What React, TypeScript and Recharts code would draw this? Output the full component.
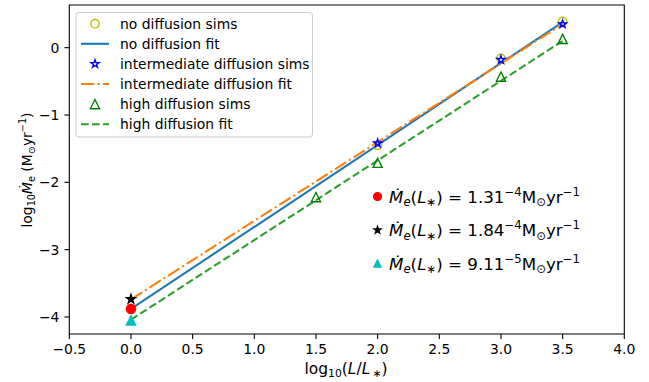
import React from 'react';
import { ComposedChart, XAxis, YAxis, Line, Scatter, ReferenceArea } from 'recharts';

const xTicks = [-0.5, 0, 0.5, 1, 1.5, 2, 2.5, 3, 3.5, 4];
const yTicks = [-4, -3, -2, -1, 0];
const xDomain = [-0.5, 4.0];
const yDomain = [-4.253, 0.634];

// simulation points
const noDiffX = [2, 3, 3.5];
const noDiffY = [-1.45, -0.16, 0.39];
const interX = [2, 3, 3.5];
const interY = [-1.42, -0.18, 0.35];
const highX = [1.5, 2, 3, 3.5];
const highY = [-2.22, -1.71, -0.43, 0.13];

// fits (straight lines, two endpoints each)
const fitX = [0, 3.5];
const noDiffFitY = [-3.88, 0.38];
const interFitY = [-3.74, 0.35];
const highFitY = [-4.04, 0.1];

// values at L = L*
const lstarX = [0];
const noDiffAtL = [-3.88];
const interAtL = [-3.735];
const highAtL = [-4.05];
const annotMantissa = ['1.31', '1.84', '9.11'];
const annotExp = ['\u22124', '\u22124', '\u22125'];

const legendLabels = [
  'no diffusion sims',
  'no diffusion fit',
  'intermediate diffusion sims',
  'intermediate diffusion fit',
  'high diffusion sims',
  'high diffusion fit',
];

const toPts = (xs: number[], ys: number[]) => xs.map((x, i) => ({ x, y: ys[i] }));

const FONT = '"DejaVu Sans", sans-serif';
const LW = 2.08;

const starPath = (cx: number, cy: number, R: number) => {
  const r = R * 0.381966;
  let d = '';
  for (let i = 0; i < 10; i++) {
    const rad = i % 2 === 0 ? R : r;
    const a = -Math.PI / 2 + (i * Math.PI) / 5;
    d += (i === 0 ? 'M' : 'L') + (cx + rad * Math.cos(a)).toFixed(2) + ',' + (cy + rad * Math.sin(a)).toFixed(2);
  }
  return d + 'Z';
};

const triPath = (cx: number, cy: number, s: number) =>
  `M${cx},${cy - s}L${cx - s},${cy + s}L${cx + s},${cy + s}Z`;

const circ = (color: string, r: number, filled: boolean) => (p: any) => (
  <circle cx={p.cx} cy={p.cy} r={r} fill={filled ? color : 'none'} stroke={color} strokeWidth={1.39} />
);
const star = (color: string, R: number, filled: boolean) => (p: any) => (
  <path d={starPath(p.cx, p.cy, R)} fill={filled ? color : 'none'} stroke={color} strokeWidth={1.39} strokeLinejoin="miter" />
);
const tri = (color: string, s: number, filled: boolean) => (p: any) => (
  <path d={triPath(p.cx, p.cy, s)} fill={filled ? color : 'none'} stroke={color} strokeWidth={1.39} />
);

const fmt = (v: number, digits: number) => v.toFixed(digits).replace('-', '\u2212');

function MdotLabel({ x, y, mant, exp }: { x: number; y: number; mant: string; exp: string }) {
  return (
    <text x={x} y={y} fontFamily={FONT} fontSize={16.7} fill="#000">
      <tspan fontStyle="italic">{'\u1E40'}</tspan>
      <tspan fontStyle="italic" fontSize={11.7} dy={3.5}>e</tspan>
      <tspan dy={-3.5}>(</tspan>
      <tspan fontStyle="italic">L</tspan>
      <tspan fontSize={11.7} dy={3.5}>{'\u2217'}</tspan>
      <tspan dy={-3.5}>{') = ' + mant}</tspan>
      <tspan fontSize={11.7} dy={-7}>{exp}</tspan>
      <tspan dy={7}>M</tspan>
      <tspan fontSize={11.7} dy={3.5}>{'\u2299'}</tspan>
      <tspan dy={-3.5}>yr</tspan>
      <tspan fontSize={11.7} dy={-7}>{'\u22121'}</tspan>
    </text>
  );
}

export default function App() {
  const legendRows = [
    { kind: 'circle', color: '#bfbf00' },
    { kind: 'line', color: '#1f77b4', dash: undefined },
    { kind: 'star', color: '#0000ff' },
    { kind: 'line', color: '#ff7f0e', dash: '13.3 3.3 2.1 3.3' },
    { kind: 'tri', color: '#008000' },
    { kind: 'line', color: '#2ca02c', dash: '7.7 3.3' },
  ];
  const annotMarkers = [circ('#ff0000', 3.9, true), star('#000000', 3.5, true), tri('#00bfbf', 3.5, true)];

  return (
    <div style={{ position: 'absolute', left: 0, top: 0, width: 649, height: 382, background: '#fff' }}>
      <ComposedChart width={649} height={382} margin={{ top: 5, right: 24.7, bottom: 18, left: 9.3 }}>
        <XAxis
          type="number"
          dataKey="x"
          domain={xDomain}
          ticks={xTicks}
          allowDataOverflow
          tickFormatter={(v: number) => fmt(v, 1)}
          tick={{ fill: '#000', fontSize: 13.9, fontFamily: FONT }}
          tickLine={{ stroke: '#000', strokeWidth: 1.1 }}
          tickSize={4.9}
          tickMargin={5}
          axisLine={false}
          height={30}
        />
        <YAxis
          type="number"
          dataKey="y"
          domain={yDomain}
          ticks={yTicks}
          allowDataOverflow
          tickFormatter={(v: number) => fmt(v, 0)}
          tick={{ fill: '#000', fontSize: 13.9, fontFamily: FONT }}
          tickLine={{ stroke: '#000', strokeWidth: 1.1 }}
          tickSize={4.9}
          tickMargin={5}
          axisLine={false}
          width={60}
        />
        <ReferenceArea x1={xDomain[0]} x2={xDomain[1]} y1={yDomain[0]} y2={yDomain[1]} fill="none" stroke="#000" strokeWidth={1.1} fillOpacity={0} />
        <Scatter data={toPts(noDiffX, noDiffY)} shape={circ('#bfbf00', 4.2, false)} isAnimationActive={false} />
        <Line data={toPts(fitX, noDiffFitY)} dataKey="y" stroke="#1f77b4" strokeWidth={LW} dot={false} isAnimationActive={false} />
        <Scatter data={toPts(interX, interY)} shape={star('#0000ff', 4.2, false)} isAnimationActive={false} />
        <Line data={toPts(fitX, interFitY)} dataKey="y" stroke="#ff7f0e" strokeWidth={LW} strokeDasharray="13.3 3.3 2.1 3.3" dot={false} isAnimationActive={false} />
        <Scatter data={toPts(highX, highY)} shape={tri('#008000', 4.6, false)} isAnimationActive={false} />
        <Line data={toPts(fitX, highFitY)} dataKey="y" stroke="#2ca02c" strokeWidth={LW} strokeDasharray="7.7 3.3" dot={false} isAnimationActive={false} />
        <Scatter data={toPts(lstarX, noDiffAtL)} shape={circ('#ff0000', 4.6, true)} isAnimationActive={false} />
        <Scatter data={toPts(lstarX, interAtL)} shape={star('#000000', 4.6, true)} isAnimationActive={false} />
        <Scatter data={toPts(lstarX, highAtL)} shape={tri('#00bfbf', 4.6, true)} isAnimationActive={false} />
      </ComposedChart>

      <svg width={649} height={382} style={{ position: 'absolute', left: 0, top: 0, pointerEvents: 'none' }}>
        {/* main legend */}
        <rect x={76} y={12.5} width={236.5} height={124.5} rx={3} fill="#fff" fillOpacity={0.8} stroke="#cccccc" strokeWidth={1} />
        {legendRows.map((row, i) => {
          const cy = 23.7 + i * 20.1;
          let marker: React.ReactNode = null;
          if (row.kind === 'line') {
            marker = <line x1={81} x2={109} y1={cy} y2={cy} stroke={row.color} strokeWidth={LW} strokeDasharray={(row as any).dash} />;
          } else if (row.kind === 'circle') {
            marker = circ(row.color, 4.2, false)({ cx: 95, cy });
          } else if (row.kind === 'star') {
            marker = star(row.color, 4.2, false)({ cx: 95, cy });
          } else {
            marker = tri(row.color, 4.6, false)({ cx: 95, cy });
          }
          return (
            <g key={i}>
              {marker}
              <text x={120} y={cy} dy="0.36em" fontFamily={FONT} fontSize={13.9} fill="#000">
                {legendLabels[i]}
              </text>
            </g>
          );
        })}

        {/* value annotations */}
        {annotMantissa.map((m, i) => {
          const cy = 196.5 + i * 33.5;
          return (
            <g key={i}>
              {annotMarkers[i]({ cx: 377.5, cy })}
              <MdotLabel x={389} y={cy + 6} mant={m} exp={annotExp[i]} />
            </g>
          );
        })}

        {/* axis labels */}
        <text x={346} y={374} textAnchor="middle" fontFamily={FONT} fontSize={15.5} fill="#000">
          log<tspan fontSize={10.8} dy={3.2}>10</tspan>
          <tspan dy={-3.2}>(</tspan>
          <tspan fontStyle="italic">L</tspan>/<tspan fontStyle="italic">L</tspan>
          <tspan fontSize={10.8} dy={3.2}>{'\u2009\u2217'}</tspan>
          <tspan dy={-3.2}>)</tspan>
        </text>
        <text
          x={0}
          y={0}
          transform="translate(32,170) rotate(-90)"
          textAnchor="middle"
          fontFamily={FONT}
          fontSize={13.9}
          fill="#000"
        >
          log<tspan fontSize={9.7} dy={3}>10</tspan>
          <tspan dy={-3} fontStyle="italic">{'\u1E40'}</tspan>
          <tspan fontSize={9.7} dy={3}>e</tspan>
          <tspan dy={-3}>{' (M'}</tspan>
          <tspan fontSize={9.7} dy={3}>{'\u2299'}</tspan>
          <tspan dy={-3}>yr</tspan>
          <tspan fontSize={9.7} dy={-6}>{'\u22121'}</tspan>
          <tspan dy={6}>)</tspan>
        </text>
      </svg>
    </div>
  );
}
